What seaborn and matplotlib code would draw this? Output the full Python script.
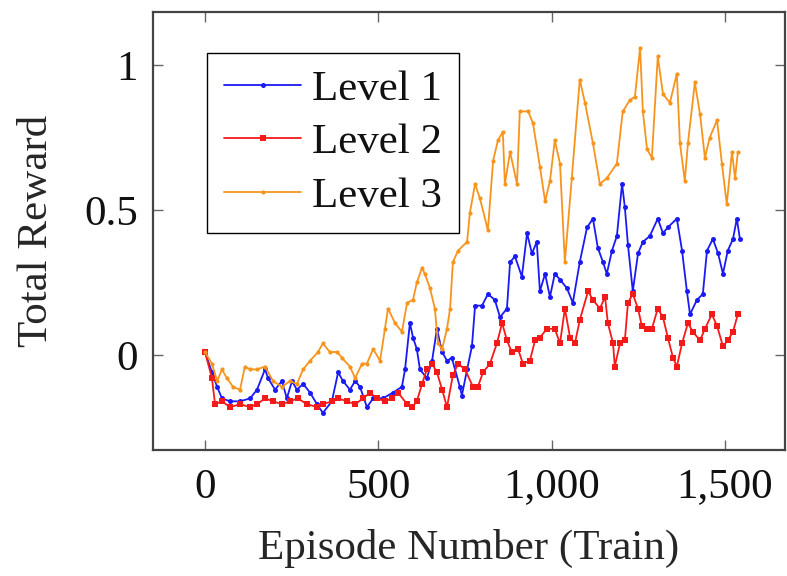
import numpy as np
import pandas as pd
import matplotlib
matplotlib.use("Agg")
import matplotlib.pyplot as plt
from matplotlib.ticker import FuncFormatter
import seaborn as sns

# ---- data ----
l1_ep = [0, 20, 35, 49, 72, 101, 130, 150, 173, 182, 202, 222, 236, 251, 265, 283, 303, 323, 340, 366,
         384, 398, 418, 433, 447, 467, 485, 513, 542, 568, 577, 591, 600, 611, 620, 640, 655, 669, 684, 698,
         712, 735, 741, 756, 770, 779, 799, 816, 836, 851, 871, 880, 894, 914, 929, 943, 957, 966, 981, 995,
         1009, 1024, 1044, 1061, 1081, 1102, 1119, 1133, 1148, 1159, 1174, 1188, 1203, 1211, 1220, 1234, 1249,
         1263, 1283, 1306, 1321, 1335, 1361, 1376, 1390, 1399, 1419, 1436, 1448, 1465, 1480, 1494, 1508, 1523,
         1534, 1543]
l1_val = [0.01, -0.06, -0.11, -0.15, -0.16, -0.16, -0.15, -0.12, -0.05, -0.08, -0.12, -0.09, -0.15, -0.09,
          -0.12, -0.10, -0.13, -0.17, -0.20, -0.16, -0.06, -0.09, -0.12, -0.09, -0.11, -0.18, -0.15, -0.15,
          -0.13, -0.11, -0.05, 0.11, 0.06, 0.02, -0.05, -0.08, -0.02, 0.09, 0.01, -0.02, -0.01, -0.11, -0.14,
          -0.05, 0.03, 0.17, 0.17, 0.21, 0.19, 0.13, 0.16, 0.32, 0.34, 0.27, 0.42, 0.35, 0.39, 0.22, 0.28, 0.20,
          0.28, 0.26, 0.23, 0.18, 0.32, 0.44, 0.47, 0.37, 0.32, 0.28, 0.36, 0.41, 0.59, 0.51, 0.38, 0.22, 0.35,
          0.39, 0.41, 0.47, 0.42, 0.44, 0.47, 0.36, 0.22, 0.14, 0.19, 0.21, 0.36, 0.40, 0.35, 0.28, 0.36, 0.40,
          0.47, 0.40]

l2_ep = [0, 20, 29, 49, 72, 101, 130, 150, 173, 196, 222, 245, 268, 294, 323, 340, 366, 384, 410, 433,
         456, 476, 496, 519, 539, 557, 583, 597, 611, 626, 640, 655, 669, 684, 698, 715, 730, 750, 773, 787,
         802, 822, 842, 857, 871, 885, 903, 917, 937, 952, 966, 986, 1009, 1024, 1038, 1053, 1067, 1081, 1105,
         1119, 1139, 1154, 1162, 1177, 1182, 1197, 1211, 1220, 1234, 1249, 1260, 1275, 1289, 1306, 1321, 1335,
         1350, 1361, 1376, 1393, 1407, 1428, 1442, 1462, 1477, 1494, 1508, 1523, 1537]
l2_val = [0.01, -0.08, -0.17, -0.16, -0.18, -0.17, -0.18, -0.17, -0.15, -0.16, -0.17, -0.16, -0.15, -0.17,
          -0.18, -0.17, -0.16, -0.15, -0.16, -0.17, -0.15, -0.13, -0.15, -0.16, -0.15, -0.13, -0.17, -0.18,
          -0.16, -0.10, -0.05, -0.03, -0.06, -0.12, -0.18, -0.07, -0.03, -0.05, -0.11, -0.11, -0.06, -0.03,
          0.04, 0.11, 0.05, 0.01, 0.02, -0.03, -0.02, 0.05, 0.06, 0.09, 0.09, 0.04, 0.16, 0.06, 0.04, 0.12,
          0.22, 0.19, 0.16, 0.20, 0.11, 0.04, -0.04, 0.04, 0.05, 0.18, 0.21, 0.16, 0.10, 0.09, 0.09, 0.16, 0.13,
          0.06, -0.01, -0.04, 0.04, 0.11, 0.08, 0.05, 0.09, 0.14, 0.10, 0.03, 0.05, 0.08, 0.14]

l3_ep = [0, 20, 35, 49, 63, 81, 101, 115, 130, 150, 173, 196, 222, 245, 265, 283, 303, 326, 340, 360, 381,
         395, 418, 433, 453, 467, 485, 505, 519, 528, 548, 568, 583, 600, 611, 626, 634, 649, 663, 672, 684,
         698, 707, 715, 730, 756, 764, 779, 793, 816, 831, 845, 859, 865, 880, 900, 908, 932, 946, 966, 981,
         995, 1009, 1024, 1038, 1058, 1081, 1096, 1119, 1139, 1159, 1188, 1205, 1226, 1240, 1255, 1263, 1275,
         1289, 1306, 1321, 1341, 1361, 1370, 1384, 1393, 1413, 1428, 1442, 1456, 1477, 1491, 1505, 1520, 1529,
         1537]
l3_val = [0.01, -0.03, -0.09, -0.05, -0.08, -0.11, -0.12, -0.04, -0.05, -0.05, -0.04, -0.09, -0.11, -0.09,
          -0.10, -0.05, -0.02, 0.01, 0.04, 0.01, 0.01, -0.01, -0.04, -0.08, -0.03, -0.03, 0.02, -0.02, 0.09,
          0.16, 0.11, 0.08, 0.18, 0.19, 0.25, 0.30, 0.28, 0.23, 0.16, 0.04, 0.02, 0.09, 0.16, 0.32, 0.36, 0.39,
          0.49, 0.59, 0.54, 0.43, 0.67, 0.74, 0.77, 0.59, 0.70, 0.59, 0.84, 0.84, 0.80, 0.65, 0.53, 0.60, 0.74,
          0.66, 0.32, 0.61, 0.95, 0.87, 0.73, 0.59, 0.61, 0.66, 0.84, 0.88, 0.89, 1.06, 0.84, 0.71, 0.68, 1.03,
          0.90, 0.87, 0.97, 0.73, 0.60, 0.73, 0.94, 0.83, 0.68, 0.75, 0.81, 0.66, 0.52, 0.70, 0.61, 0.70]

labels = ["Level 1", "Level 2", "Level 3"]
xticks = [0, 500, 1000, 1500]
yticks = [0, 0.5, 1]

# ---- style ----
sns.set_style("ticks")
plt.rcParams["font.family"] = ["Liberation Serif", "DejaVu Serif"]
plt.rcParams["text.color"] = "#111111"
plt.rcParams["xtick.color"] = "#111111"
plt.rcParams["ytick.color"] = "#111111"

fig = plt.figure(figsize=(7.87, 5.76), dpi=100)
ax = fig.add_axes([153 / 787, 1 - 450 / 576, (785 - 153) / 787, (450 - 12) / 576])

specs = [
    (l1_ep, l1_val, "#1a1af5", "o", 3.6),
    (l2_ep, l2_val, "#f51a1a", "s", 3.8),
    (l3_ep, l3_val, "#f7941d", "o", 3.0),
]
for (ep, val, color, mk, ms), lab in zip(specs, labels):
    sns.lineplot(x=ep, y=val, ax=ax, color=color, marker=mk, markersize=ms,
                 markeredgewidth=0, linewidth=1.3, label=lab, sort=False,
                 estimator=None, errorbar=None)

ax.set_xlim(-150, 1673)
ax.set_ylim(-0.328, 1.183)
ax.set_xticks(xticks)
ax.set_yticks(yticks)
ax.xaxis.set_major_formatter(FuncFormatter(lambda v, p: f"{int(v):,}"))
ax.yaxis.set_major_formatter(FuncFormatter(lambda v, p: f"{v:g}"))
ax.tick_params(direction="in", length=7, width=1.0, color="#666666",
               top=True, right=True, labelsize=31)
ax.tick_params(axis="x", pad=13)
ax.tick_params(axis="y", pad=11)
for s in ax.spines.values():
    s.set_visible(True)
    s.set_linewidth(1.6)
    s.set_color("#444444")

ax.set_xlabel("Episode Number (Train)", fontsize=31, labelpad=16)
ax.set_ylabel("Total Reward", fontsize=31, labelpad=20)

leg = ax.legend(loc="upper left", bbox_to_anchor=(0.085, 0.907), borderaxespad=0,
                fontsize=31, frameon=True, fancybox=False, framealpha=1,
                edgecolor="black", handlelength=1.8, handletextpad=0.25,
                labelspacing=0.33, borderpad=0.4, markerscale=1.0)
leg.get_frame().set_linewidth(1.0)

fig.savefig("out.png", dpi=100)
